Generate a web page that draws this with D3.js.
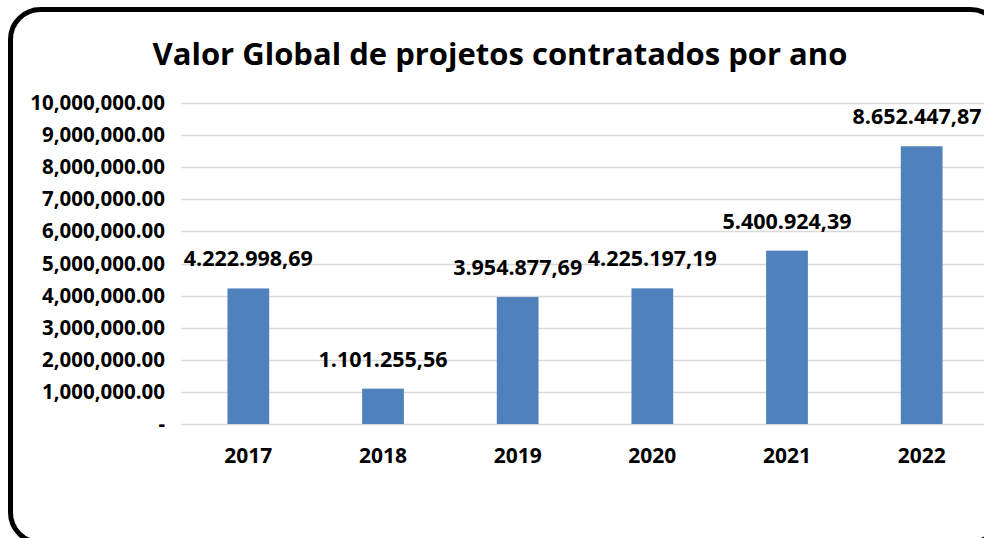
<!DOCTYPE html>
<html>
<head>
<meta charset="utf-8">
<script src="https://cdn.jsdelivr.net/npm/d3@7"></script>
<style>
  html, body { margin: 0; padding: 0; background: #fff; }
  #chart { width: 984px; height: 538px; overflow: hidden; }
  text { font-family: "Open Sans", "DejaVu Sans", sans-serif; font-weight: 700; fill: #000; }
</style>
</head>
<body>
<div id="chart"></div>
<script>
// data
const years = ["2017", "2018", "2019", "2020", "2021", "2022"];
const values = [4222998.69, 1101255.56, 3954877.69, 4225197.19, 5400924.39, 8652447.87];
const valueLabels = ["4.222.998,69", "1.101.255,56", "3.954.877,69", "4.225.197,19", "5.400.924,39", "8.652.447,87"];
const yTicks = [0, 1000000, 2000000, 3000000, 4000000, 5000000, 6000000, 7000000, 8000000, 9000000, 10000000];
const title = "Valor Global de projetos contratados por ano";

const W = 984, H = 538;
const margin = { left: 181, right: -5, top: 103, bottom: 114 };

const svg = d3.select("#chart").append("svg")
    .attr("width", W)
    .attr("height", H);

// frame (runs partly off the right/bottom edge, like the screenshot)
svg.append("rect")
    .attr("x", 10.5).attr("y", 9.5)
    .attr("width", 990).attr("height", 533)
    .attr("rx", 30).attr("ry", 30)
    .attr("fill", "#fff")
    .attr("stroke", "#000")
    .attr("stroke-width", 5);

svg.append("text")
    .attr("x", 500).attr("y", 65)
    .attr("text-anchor", "middle")
    .attr("font-size", "31px")
    .text(title);

const x = d3.scaleBand()
    .domain(years)
    .range([margin.left, W - margin.right])
    .paddingInner(0.69)
    .paddingOuter(0.345);

const y = d3.scaleLinear()
    .domain([0, 10000000])
    .range([H - margin.bottom, margin.top]);

const fmt = d3.format(",.2f");

// gridlines
svg.append("g")
    .selectAll("line")
    .data(yTicks)
    .enter().append("line")
    .attr("x1", margin.left)
    .attr("x2", W - margin.right)
    .attr("y1", d => Math.round(y(d)) + 0.5)
    .attr("y2", d => Math.round(y(d)) + 0.5)
    .attr("stroke", "#d9d9d9")
    .attr("stroke-width", 1.5);

// y axis labels
const yAxis = svg.append("g")
    .attr("transform", `translate(${margin.left - 16},0)`)
    .call(d3.axisLeft(y).tickValues(yTicks).tickSize(0).tickPadding(0)
        .tickFormat(d => d === 0 ? "-" : fmt(d)));
yAxis.select(".domain").remove();
yAxis.selectAll("text")
    .attr("font-size", "20.5px")
    .attr("font-family", null);

// bars
svg.append("g")
    .selectAll("rect")
    .data(values)
    .enter().append("rect")
    .attr("x", (d, i) => x(years[i]))
    .attr("y", d => y(d))
    .attr("width", x.bandwidth())
    .attr("height", d => y(0) - y(d))
    .attr("fill", "#4f81bd");

// value labels
svg.append("g")
    .selectAll("text")
    .data(values)
    .enter().append("text")
    .attr("x", (d, i) => Math.min(x(years[i]) + x.bandwidth() / 2, 917))
    .attr("y", d => y(d) - 22)
    .attr("text-anchor", "middle")
    .attr("font-size", "21.5px")
    .text((d, i) => valueLabels[i]);

// x axis labels
const xAxis = svg.append("g")
    .attr("transform", `translate(0,${y(0)})`)
    .call(d3.axisBottom(x).tickSize(0).tickPadding(24));
xAxis.select(".domain").remove();
xAxis.selectAll("text")
    .attr("font-size", "21px")
    .attr("font-family", null);
</script>
</body>
</html>
